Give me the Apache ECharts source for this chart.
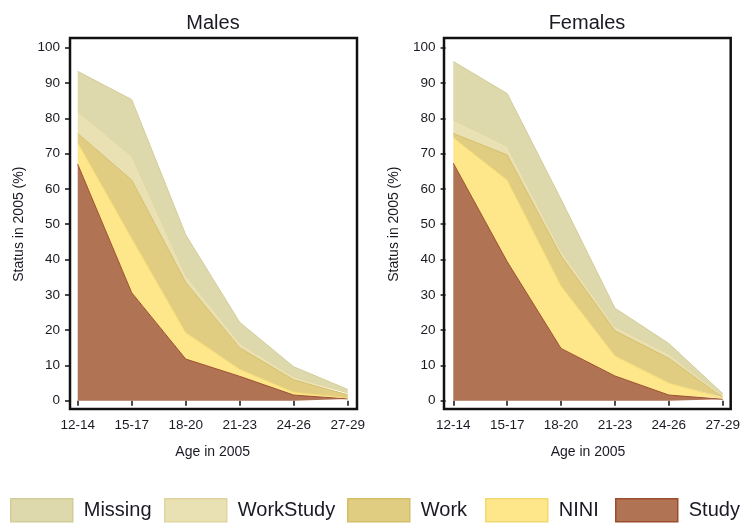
<!DOCTYPE html>
<html>
<head>
<meta charset="utf-8">
<script src="https://cdn.jsdelivr.net/npm/echarts@6/dist/echarts.min.js"></script>
<style>
html,body{margin:0;padding:0;background:#fff;}
#c{width:743px;height:523px;}
</style>
</head>
<body>
<div id="c"></div>
<script>
var categories = ['12-14', '15-17', '18-20', '21-23', '24-26', '27-29'];
var yTicks = [0, 10, 20, 30, 40, 50, 60, 70, 80, 90, 100];
var seriesNames = ['Missing', 'WorkStudy', 'Work', 'NINI', 'Study'];

// Males: share of each status (%), stacked bottom-up Study, NINI, Work, WorkStudy, Missing
var maleStudy     = [67.0, 30.6, 11.8, 6.9, 1.6, 0.5];
var maleNINI      = [6.1, 15.4, 7.5, 2.0, 0.8, 0.3];
var maleWork      = [2.6, 16.5, 14.2, 6.1, 3.5, 0.9];
var maleWorkStudy = [6.2, 6.8, 2.0, 1.3, 0.9, 0.5];
var maleMissing   = [11.4, 16.0, 11.5, 5.9, 2.8, 1.0];

// Females
var femaleStudy     = [67.3, 39.4, 14.8, 7.0, 1.6, 0.4];
var femaleNINI      = [7.2, 23.1, 17.7, 5.7, 3.4, 0.3];
var femaleWork      = [1.2, 7.1, 8.5, 7.1, 7.0, 0.3];
var femaleWorkStudy = [3.9, 2.5, 1.5, 1.2, 1.2, 0.3];
var femaleMissing   = [16.5, 14.9, 14.5, 5.2, 3.0, 0.7];

var fills = {Missing:'#DDD9AD', WorkStudy:'#E9E0B3', Work:'#E0CD82', NINI:'#FEE68B', Study:'#B07353'};
var edges = {Missing:'#D2CD98', WorkStudy:'#E0D59E', Work:'#D4BE68', NINI:'#F4D870', Study:'#9C4E2C'};

var FONT = '"Liberation Sans", Arial, sans-serif';
var TXT = '#1a1a24';

var chart = echarts.init(document.getElementById('c'), null, {renderer:'canvas'});

var dataGrids = [
  {left: 77.7, top: 47.7, width: 270, height: 353},
  {left: 453.3, top: 47.7, width: 271, height: 353}
];
var frameGrids = [
  {left: 70, top: 38, width: 287, height: 371},
  {left: 444, top: 38, width: 286.7, height: 371}
];

var grids = [], xAxes = [], yAxes = [], series = [];
[0,1].forEach(function(i){
  grids.push({left: dataGrids[i].left, top: dataGrids[i].top, width: dataGrids[i].width, height: dataGrids[i].height, containLabel:false});
});
[0,1].forEach(function(i){
  grids.push({left: frameGrids[i].left, top: frameGrids[i].top, width: frameGrids[i].width, height: frameGrids[i].height,
    show:true, borderColor:'#111', borderWidth:2.5, backgroundColor:'transparent', containLabel:false, z:5});
});

[0,1].forEach(function(i){
  xAxes.push({
    type:'category', gridIndex:i, data:categories, boundaryGap:false, offset:8.3,
    axisLine:{show:false},
    axisTick:{show:true, length:5, lineStyle:{color:'#111', width:1.5}},
    axisLabel:{color:TXT, fontSize:13.5, fontFamily:FONT, margin:9, interval:0},
    splitLine:{show:false},
    name:'Age in 2005', nameLocation:'middle', nameGap:36,
    nameTextStyle:{color:TXT, fontSize:14, fontFamily:FONT}
  });
  yAxes.push({
    type:'value', gridIndex:i, min:yTicks[0], max:yTicks[yTicks.length-1], interval:10, offset:7.7,
    axisLine:{show:false},
    axisTick:{show:true, length:5, lineStyle:{color:'#111', width:1.5}},
    axisLabel:{color:TXT, fontSize:13.5, fontFamily:FONT, margin:10},
    splitLine:{show:false},
    name:'Status in 2005 (%)', nameLocation:'middle', nameGap:44, nameRotate:90,
    nameTextStyle:{color:TXT, fontSize:14, fontFamily:FONT}
  });
});
// frame axes (hidden)
[2,3].forEach(function(i){
  xAxes.push({type:'value', gridIndex:i, show:false, min:0, max:1});
  yAxes.push({type:'value', gridIndex:i, show:false, min:0, max:1});
});

var panels = [
  {stack:'m', Study:maleStudy, NINI:maleNINI, Work:maleWork, WorkStudy:maleWorkStudy, Missing:maleMissing},
  {stack:'f', Study:femaleStudy, NINI:femaleNINI, Work:femaleWork, WorkStudy:femaleWorkStudy, Missing:femaleMissing}
];
var order = ['Study', 'NINI', 'Work', 'WorkStudy', 'Missing'];
panels.forEach(function(p, i){
  order.forEach(function(name){
    series.push({
      name:name, type:'line', xAxisIndex:i, yAxisIndex:i, stack:p.stack,
      data:p[name], showSymbol:false, symbol:'none', smooth:false,
      lineStyle:{color:edges[name], width:1},
      itemStyle:{color:fills[name]},
      areaStyle:{color:fills[name], opacity:1},
      emphasis:{disabled:true}, silent:true, animation:false
    });
  });
});

var legendLefts = {Missing:10, WorkStudy:164, Work:347, NINI:485, Study:615};
var legends = seriesNames.map(function(name){
  return {
    data:[{name:name, icon:'rect', itemStyle:{color:fills[name], borderColor:edges[name], borderWidth:1.5}}],
    left:legendLefts[name], top:498, padding:0, itemWidth:62, itemHeight:23, itemGap:0,
    selectedMode:false,
    textStyle:{color:TXT, fontSize:20, fontFamily:FONT, padding:[2,0,0,6]}
  };
});

chart.setOption({
  animation:false,
  backgroundColor:'#fff',
  title:[
    {text:'Males', left:208, top:8, textAlign:'center', textStyle:{color:TXT, fontSize:20, fontWeight:'normal', fontFamily:FONT}},
    {text:'Females', left:582, top:8, textAlign:'center', textStyle:{color:TXT, fontSize:20, fontWeight:'normal', fontFamily:FONT}}
  ],
  legend:legends,
  grid:grids,
  xAxis:xAxes,
  yAxis:yAxes,
  series:series
});
</script>
</body>
</html>
